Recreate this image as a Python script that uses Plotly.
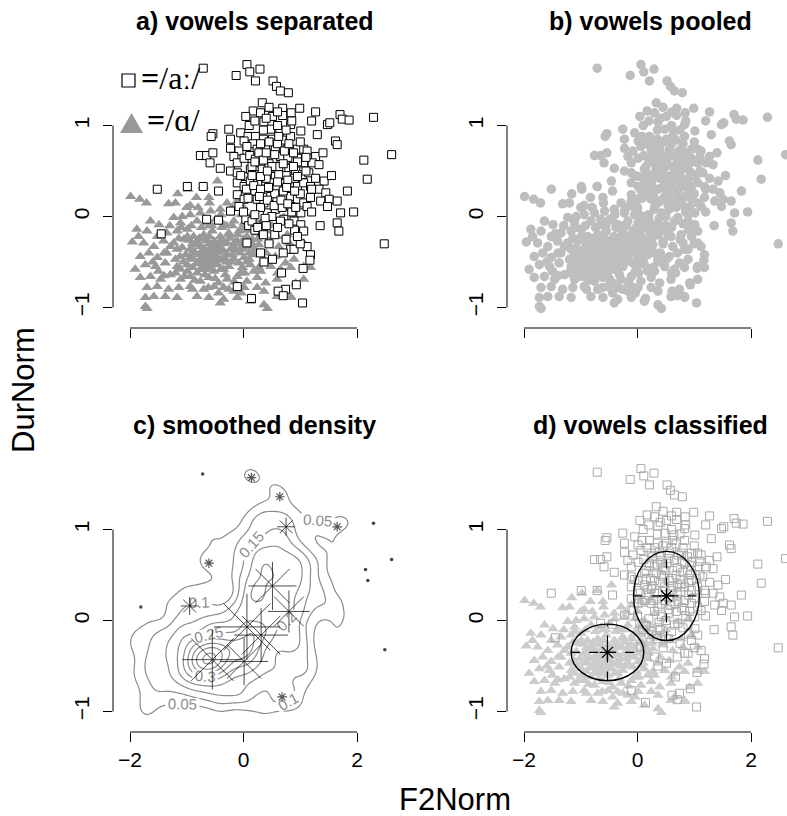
import numpy as np
import plotly.graph_objects as go

# ---------------- data ----------------
# /a:/ tokens (squares): F2Norm, DurNorm
long_x = [-0.71,0.06,0.11,0.29,-0.13,0.21,0.52,0.58,0.65,0.79,
0.33,0.69,0.17,0.30,0.04,0.51,0.69,0.84,0.99,1.27,
1.20,1.70,1.74,1.86,1.48,1.52,2.29,0.36,0.83,1.01,
0.64,-0.26,-0.54,-0.57,-0.05,0.08,0.21,0.48,0.83,1.62,
1.65,-0.23,0.01,0.17,0.35,0.51,0.68,-0.23,-0.08,0.06,
0.24,0.39,0.56,0.77,0.95,1.06,1.12,1.27,-0.76,-0.65,
-0.54,-0.59,-0.41,-0.17,-0.11,0.01,0.11,0.21,0.30,0.41,
0.52,0.65,0.83,0.95,1.06,1.21,1.33,2.12,2.61,2.18,
1.83,-0.23,-0.11,0.01,0.12,0.23,0.33,0.45,0.56,0.68,
0.80,0.92,1.04,1.15,1.27,1.42,-0.11,0.01,0.12,0.24,
0.36,0.48,0.59,0.71,0.83,0.95,1.06,1.18,1.33,1.45,
1.51,1.65,1.71,1.94,1.65,1.68,2.48,-0.44,-1.52,-0.99,
-0.71,-0.11,0.01,0.12,0.24,0.36,0.48,0.59,0.71,0.83,
0.95,1.06,1.18,1.36,1.48,0.42,0.56,0.68,0.83,1.01,
1.12,0.71,0.89,1.01,1.06,-0.44,0.04,0.09,0.36,0.33,
0.06,0.30,0.51,0.83,0.89,1.12,1.18,1.17,0.36,0.74,
-0.11,0.14,1.04,-1.45,-0.65,-0.23,-0.08,
0.15,0.27,0.45,0.62,0.75,0.90,0.55,0.70,0.40,0.20,
0.05,0.30,0.85,0.65,0.50,0.95,1.10,1.00,0.78,0.60,
0.35,0.10,0.45,0.75,0.25,-0.05,1.20,1.35,0.90,0.55,
0.75,1.00,0.20,1.55,1.40,1.30,0.00,0.60,
0.61,0.70,0.93,1.05,0.67,
0.20,0.35,0.50,0.70,0.88,0.15,0.30,0.42,0.62,0.78,
0.95,0.18,0.30,0.44,0.60,0.76,0.90,0.08,0.28,0.42,
0.54,0.66,0.78,0.92,0.40,0.55,0.72,0.88,0.30,0.45,
0.62,0.80,1.00,0.20,0.40,0.60,0.85,1.10,1.20,0.38,
0.60,0.80,0.95,0.45,0.70,
0.15,0.25,0.35,0.20,0.40]
long_y = [1.63,1.67,1.59,1.62,1.55,1.49,1.49,1.43,1.38,1.36,
1.25,1.19,1.16,1.14,1.10,1.10,1.11,1.14,1.19,1.15,
1.05,1.12,1.07,1.06,1.01,1.03,1.09,1.04,1.01,0.94,
0.94,0.96,0.91,0.88,0.92,0.88,0.88,0.96,0.88,0.83,
0.79,0.85,0.83,0.80,0.85,0.85,0.84,0.75,0.72,0.77,
0.74,0.75,0.74,0.74,0.74,0.74,0.72,0.66,0.67,0.67,
0.70,0.59,0.53,0.66,0.59,0.64,0.67,0.63,0.59,0.64,
0.63,0.66,0.63,0.64,0.59,0.59,0.57,0.62,0.68,0.41,
0.28,0.50,0.48,0.44,0.52,0.46,0.52,0.48,0.44,0.50,
0.53,0.50,0.46,0.48,0.42,0.39,0.37,0.33,0.39,0.35,
0.30,0.37,0.33,0.39,0.37,0.33,0.37,0.33,0.30,0.26,
0.19,0.17,0.04,0.05,-0.07,-0.16,-0.30,0.28,0.30,0.33,
0.33,0.24,0.19,0.22,0.19,0.15,0.22,0.17,0.21,0.22,
0.19,0.15,0.21,0.17,0.11,0.04,0.08,0.10,0.11,0.04,
0.11,-0.03,-0.05,-0.09,-0.16,-0.04,-0.03,-0.10,-0.08,-0.17,
-0.29,-0.40,-0.47,-0.36,-0.36,-0.33,-0.42,-0.48,-0.50,-0.80,
-0.77,-0.90,-0.95,-0.19,-0.03,0.06,0.11,
0.55,0.70,0.58,0.55,0.45,0.42,0.25,0.28,0.42,0.28,
0.30,0.10,0.05,-0.05,0.00,0.60,0.50,0.25,0.65,0.80,
0.95,1.00,1.20,0.95,0.38,0.45,0.05,-0.10,-0.15,-0.20,
-0.25,-0.30,-0.15,0.45,0.70,0.90,0.05,1.00,
-0.82,-0.87,-0.75,-0.57,-0.62,
0.60,0.62,0.55,0.58,0.55,0.45,0.44,0.50,0.46,0.40,
0.44,0.34,0.30,0.32,0.38,0.32,0.28,0.20,0.22,0.18,
0.12,0.18,0.14,0.10,0.70,0.68,0.72,0.70,0.80,0.82,
0.88,0.80,0.82,1.05,1.08,1.15,1.05,0.65,0.30,-0.02,
-0.12,-0.08,-0.22,-0.30,-0.40,
-0.05,-0.12,-0.20,0.02,-0.10]

# /ɑ/ tokens (triangles)
short_x = [-1.99,-1.83,-1.71,-1.16,-0.98,-0.71,-0.46,-0.83,-0.61,-1.32,
-1.20,-0.94,-0.29,-0.11,0.06,0.24,-1.49,-1.64,-1.23,-1.08,
-0.94,-0.76,-0.58,-0.41,-0.23,-0.05,0.12,0.30,0.48,0.71,
0.89,-1.88,-1.11,-0.82,-0.64,-0.49,-0.35,-0.17,0.01,0.21,
-1.96,-1.85,-1.70,-1.52,-1.35,-1.17,-0.99,-0.88,-0.70,-0.55,
-0.41,-0.26,-0.08,0.06,0.24,0.42,0.59,0.77,0.95,1.06,
-1.76,-1.58,-1.41,-1.23,-1.05,-0.82,-0.64,-0.46,-0.29,-0.11,
0.09,0.27,0.45,0.62,0.80,-1.82,-1.67,-1.52,-1.35,-1.20,
-1.02,-0.88,-0.73,-0.58,-0.44,-0.29,-0.14,0.01,0.18,0.36,
0.56,0.74,0.89,-1.91,-1.73,-1.55,-1.38,-1.17,-0.99,-0.82,
-0.64,-0.46,-0.26,-0.08,0.12,0.27,0.48,0.65,0.83,1.06,
1.18,-1.82,-1.64,-1.46,-1.29,-1.11,-0.94,-0.76,-0.61,-0.44,
-0.29,-0.11,0.06,0.24,0.39,0.59,0.92,1.06,-1.70,-1.52,
-1.32,-1.14,-0.94,-0.70,-0.52,-0.35,-0.17,0.01,0.24,0.36,
0.65,0.83,-1.73,-1.58,-1.38,-1.17,-0.82,-0.61,-0.35,-0.11,
0.12,0.36,0.59,0.83,-1.73,-1.70,-0.41,0.42,
-0.94,-0.76,-0.61,-0.46,-0.35,-0.99,-0.82,-0.67,-0.52,-0.38,
-0.23,-0.17,-1.17,-1.29,-0.88,-0.70,-0.52,-0.35,-0.99,-0.82,
-1.11,-0.60,-0.30,0.15,0.30,-0.05,-1.40,-1.00,-0.60,-0.20,
-1.10,-0.92,-0.74,-0.56,-0.38,-0.20,-0.02,0.16,
-1.14,-0.96,-0.78,-0.60,-0.42,-0.24,-0.06,0.12,
-1.08,-0.90,-0.72,-0.54,-0.36,-0.18,0.00,0.20,
-1.12,-0.94,-0.78,-0.62,-0.50,-0.34,-0.20,-0.06,0.10,
-1.06,-0.90,-0.74,-0.56,-0.40,-0.22,-0.02,0.18,
-1.20,-1.04,-0.86,-0.68,-0.50,-0.32,-0.16,0.02,
-0.90,-0.62,-0.44,-0.26,-0.04,
-1.40,-1.50,-1.30,-0.80,-0.40,0.00,0.40,0.50,0.60,-1.60,
-0.85,-0.75,-0.65,-0.55,-0.45,-0.70,-0.60,-0.50,-0.80,-0.65,
-0.55,-0.40,-0.72,-0.62,-0.48,-0.90,-0.58,-0.42,-0.76,-0.30,
-0.10,0.05,0.15,-0.05,0.10,0.00,-0.15,0.25,-0.25,0.05]
short_y = [0.22,0.19,0.15,0.25,0.30,0.33,0.39,0.21,0.21,0.14,
0.15,0.12,0.15,0.17,0.21,0.22,-0.09,-0.05,-0.01,0.00,
0.02,0.04,0.06,0.08,0.04,0.02,0.00,0.08,0.02,-0.01,
0.02,-0.14,-0.07,-0.05,-0.07,-0.03,-0.09,-0.05,-0.07,-0.05,
-0.28,-0.22,-0.16,-0.22,-0.18,-0.16,-0.14,-0.22,-0.20,-0.16,
-0.22,-0.18,-0.16,-0.22,-0.18,-0.16,-0.22,-0.20,-0.16,-0.29,
-0.29,-0.33,-0.27,-0.29,-0.25,-0.31,-0.27,-0.33,-0.29,-0.27,
-0.33,-0.31,-0.27,-0.33,-0.29,-0.44,-0.40,-0.45,-0.40,-0.47,
-0.42,-0.38,-0.45,-0.40,-0.47,-0.42,-0.38,-0.45,-0.42,-0.47,
-0.44,-0.51,-0.47,-0.58,-0.53,-0.55,-0.51,-0.55,-0.53,-0.51,
-0.55,-0.53,-0.55,-0.51,-0.53,-0.56,-0.55,-0.58,-0.56,-0.55,
-0.56,-0.67,-0.66,-0.69,-0.64,-0.69,-0.66,-0.71,-0.67,-0.73,
-0.69,-0.66,-0.71,-0.67,-0.73,-0.69,-0.73,-0.69,-0.78,-0.77,
-0.80,-0.78,-0.77,-0.80,-0.77,-0.78,-0.82,-0.78,-0.78,-0.82,
-0.84,-0.88,-0.89,-0.88,-0.88,-0.89,-0.88,-0.89,-0.91,-0.89,
-0.93,-0.97,-0.88,-0.89,-0.99,-1.01,-0.95,-1.01,
-0.36,-0.33,-0.36,-0.34,-0.38,-0.22,-0.27,-0.25,-0.27,-0.25,
-0.36,-0.47,-0.36,-0.33,-0.47,-0.58,-0.60,-0.58,-0.60,-0.62,
-0.58,-0.10,-0.10,-0.25,-0.60,-0.62,-0.65,0.10,0.15,0.10,
-0.12,-0.10,-0.12,-0.10,-0.12,-0.10,-0.12,-0.10,
-0.24,-0.26,-0.24,-0.22,-0.28,-0.24,-0.30,-0.28,
-0.34,-0.30,-0.38,-0.32,-0.30,-0.33,-0.36,-0.36,
-0.44,-0.45,-0.42,-0.46,-0.43,-0.45,-0.42,-0.40,-0.47,
-0.50,-0.56,-0.52,-0.50,-0.58,-0.50,-0.56,-0.60,
-0.62,-0.66,-0.70,-0.64,-0.68,-0.64,-0.72,-0.62,
-0.80,-0.78,-0.84,-0.80,-0.84,
-0.40,-0.60,-0.10,0.10,0.02,0.10,-0.40,-0.10,-0.62,-0.50,
-0.40,-0.48,-0.42,-0.50,-0.40,-0.35,-0.30,-0.36,-0.52,-0.52,
-0.44,-0.48,-0.44,-0.38,-0.52,-0.46,-0.58,-0.34,-0.58,-0.50,
-0.20,-0.15,-0.30,-0.35,-0.40,-0.25,-0.28,-0.25,-0.20,-0.50]

# panel c: sunflower-style markers (centre and count)
sun_x = [-0.55, 0.01, 0.06, 0.31, 0.51, 0.80, -0.95, 0.75, 0.14, 0.64, 1.65, -0.61, 0.68,
         -0.72, 2.29, 2.61, 2.15, 2.19, -1.81, 2.49]
sun_y = [-0.43, -0.45, -0.07, -0.16, 0.38, 0.10, 0.16, 1.03, 1.57, 1.36, 1.03, 0.63, -0.84,
         1.61, 1.07, 0.67, 0.56, 0.44, 0.15, -0.32]
sun_n = [10, 8, 11, 9, 8, 7, 3, 3, 2, 2, 2, 2, 2, 1, 1, 1, 1, 1, 1, 1]
contour_levels = [0.05, 0.7, 0.05]   # start, end, step

# panel d: class means and ellipse half-widths
cls_cx = [-0.53, 0.51]
cls_cy = [-0.35, 0.27]
cls_rx = [0.64, 0.58]
cls_ry = [0.31, 0.49]

titles = ["a) vowels separated", "b) vowels pooled", "c) smoothed density", "d) vowels classified"]
xticks = [-2, 0, 2]
yticks = [-1, 0, 1]

# ---------------- layout geometry ----------------
W, H = 787, 816
XR = [-2.30, 2.62]
YR = [-1.225, 1.80]
FONT = "Liberation Sans, Arial, Helvetica, sans-serif"

def fx(p):
    return p / W

def fy(p):
    return 1 - p / H

col_left = [113, 507]
plot_w = (XR[1] - XR[0]) * 56.75
row_bottom = [328, 732]
plot_h = (YR[1] - YR[0]) * 91.0

fig = go.Figure()

sq_long = dict(symbol="square", size=8, color="white", line=dict(color="black", width=1))
tri_a = dict(symbol="triangle-up", size=10, color="#999999", line=dict(width=0))

# panel a
fig.add_trace(go.Scatter(x=short_x, y=short_y, mode="markers", marker=tri_a,
                         xaxis="x", yaxis="y", cliponaxis=False))
fig.add_trace(go.Scatter(x=long_x, y=long_y, mode="markers", marker=sq_long,
                         xaxis="x", yaxis="y", cliponaxis=False))
# panel b
fig.add_trace(go.Scatter(x=long_x + short_x, y=long_y + short_y, mode="markers",
                         marker=dict(symbol="circle", size=9.5, color="#bebebe", line=dict(width=0)),
                         xaxis="x2", yaxis="y2", cliponaxis=False))

# panel c : kernel density of pooled tokens
px_all = np.array(long_x + short_x)
py_all = np.array(long_y + short_y)
gx = np.linspace(-2.3, 2.8, 180)
gy = np.linspace(-1.4, 2.0, 150)
hx, hy = 0.15, 0.10
GX, GY = np.meshgrid(gx, gy)
Z = np.zeros_like(GX)
for xi, yi in zip(px_all, py_all):
    Z += np.exp(-0.5 * ((GX - xi) / hx) ** 2 - 0.5 * ((GY - yi) / hy) ** 2)
Z /= (len(px_all) * 2 * np.pi * hx * hy)
fig.add_trace(go.Contour(x=gx, y=gy, z=Z, xaxis="x3", yaxis="y3", showscale=False,
                         colorscale=[[0, "#8c8c8c"], [1, "#8c8c8c"]],
                         contours=dict(start=contour_levels[0], end=contour_levels[1], size=contour_levels[2],
                                       coloring="lines", showlabels=True,
                                       labelfont=dict(family=FONT, size=15, color="#8c8c8c"),
                                       labelformat=".2~f"),
                         line=dict(width=1.2), hoverinfo="skip"))
big = [i for i, n in enumerate(sun_n) if n >= 3]
small = [i for i, n in enumerate(sun_n) if n == 2]
single = [i for i, n in enumerate(sun_n) if n == 1]
fig.add_trace(go.Scatter(x=[sun_x[i] for i in big], y=[sun_y[i] for i in big], mode="markers",
                         marker=dict(symbol="asterisk-open", size=[5 * sun_n[i] for i in big], color="black",
                                     line=dict(color="black", width=1)),
                         xaxis="x3", yaxis="y3", cliponaxis=False))
fig.add_trace(go.Scatter(x=[sun_x[i] for i in small], y=[sun_y[i] for i in small], mode="markers",
                         marker=dict(symbol="asterisk-open", size=8, color="#555555",
                                     line=dict(color="#555555", width=1.2)),
                         xaxis="x3", yaxis="y3", cliponaxis=False))
fig.add_trace(go.Scatter(x=[sun_x[i] for i in single], y=[sun_y[i] for i in single], mode="markers",
                         marker=dict(symbol="circle", size=3.5, color="#444444"),
                         xaxis="x3", yaxis="y3", cliponaxis=False))

# panel d
fig.add_trace(go.Scatter(x=short_x, y=short_y, mode="markers",
                         marker=dict(symbol="triangle-up", size=10, color="#cccccc", line=dict(width=0)),
                         xaxis="x4", yaxis="y4", cliponaxis=False))
fig.add_trace(go.Scatter(x=long_x, y=long_y, mode="markers",
                         marker=dict(symbol="square-open", size=8, color="#aaaaaa", line=dict(width=1)),
                         xaxis="x4", yaxis="y4", cliponaxis=False))
fig.add_trace(go.Scatter(x=cls_cx, y=cls_cy, mode="markers",
                         marker=dict(symbol="asterisk-open", size=13, color="black",
                                     line=dict(color="black", width=1.3)),
                         xaxis="x4", yaxis="y4", cliponaxis=False))

shapes = []
for cx, cy, rx, ry in zip(cls_cx, cls_cy, cls_rx, cls_ry):
    shapes.append(dict(type="circle", xref="x4", yref="y4", x0=cx - rx, x1=cx + rx, y0=cy - ry, y1=cy + ry,
                       line=dict(color="black", width=1.4)))
    shapes.append(dict(type="line", xref="x4", yref="y4", x0=cx - rx, x1=cx + rx, y0=cy, y1=cy,
                       line=dict(color="black", width=1.2, dash="dash")))
    shapes.append(dict(type="line", xref="x4", yref="y4", x0=cx, x1=cx, y0=cy - ry, y1=cy + ry,
                       line=dict(color="black", width=1.2, dash="dash")))

layout = dict(width=W, height=H, margin=dict(l=0, r=0, t=0, b=0), showlegend=False,
              paper_bgcolor="white", plot_bgcolor="rgba(0,0,0,0)", font=dict(family=FONT, color="black"))

names = ["", "2", "3", "4"]
annotations = []
for k in range(4):
    r, c = divmod(k, 2)
    l = col_left[c]
    b = row_bottom[r]
    xa = dict(domain=[fx(l), min(1.0, fx(l + plot_w))], range=XR, showgrid=False, zeroline=False,
              showline=False, ticks="outside", ticklen=9, tickwidth=1, tickcolor="black",
              tickvals=xticks, showticklabels=(r == 1), tickfont=dict(family=FONT, size=21),
              anchor="y" + names[k])
    ya = dict(domain=[fy(b), fy(b - plot_h)], range=YR, showgrid=False, zeroline=False,
              showline=False, ticks="outside", ticklen=9, tickwidth=1, tickcolor="black",
              tickvals=yticks, tickangle=-90, tickfont=dict(family=FONT, size=21),
              ticklabelstandoff=6, anchor="x" + names[k])
    layout["xaxis" + names[k]] = xa
    layout["yaxis" + names[k]] = ya
    xr = "x" + names[k]
    yr = "y" + names[k]
    shapes.append(dict(type="line", xref=xr, yref=yr + " domain", x0=xticks[0], x1=xticks[-1], y0=0, y1=0,
                       line=dict(color="black", width=1)))
    shapes.append(dict(type="line", xref=xr + " domain", yref=yr, x0=0, x1=0, y0=yticks[0], y1=yticks[-1],
                       line=dict(color="black", width=1)))
    annotations.append(dict(text="<b>" + titles[k] + "</b>", x=fx([255, 650][c]), y=fy(21 + 404 * r),
                            xref="paper", yref="paper", showarrow=False, xanchor="center", yanchor="middle",
                            font=dict(family=FONT, size=25, color="black")))

# legend in panel a
shapes.append(dict(type="rect", xref="paper", yref="paper", x0=fx(122), x1=fx(135), y0=fy(87), y1=fy(74),
                   line=dict(color="black", width=1.2), fillcolor="white"))
shapes.append(dict(type="path", xref="paper", yref="paper",
                   path="M %f %f L %f %f L %f %f Z" % (fx(120), fy(133), fx(143), fy(133), fx(131.5), fy(113)),
                   line=dict(width=0), fillcolor="#999999"))
annotations.append(dict(text="<b>=</b>/aː/", x=fx(139), y=fy(78), xref="paper", yref="paper", showarrow=False,
                        xanchor="left", yanchor="middle",
                        font=dict(family="Liberation Serif, DejaVu Serif, serif", size=32, color="black")))
annotations.append(dict(text="<b>=</b>/ɑ/", x=fx(145), y=fy(120), xref="paper", yref="paper", showarrow=False,
                        xanchor="left", yanchor="middle",
                        font=dict(family="Liberation Serif, DejaVu Serif, serif", size=32, color="black")))
annotations.append(dict(text="DurNorm", x=fx(23), y=fy(390), xref="paper", yref="paper", showarrow=False,
                        textangle=-90, xanchor="center", yanchor="middle",
                        font=dict(family=FONT, size=31, color="black")))
annotations.append(dict(text="F2Norm", x=fx(455), y=fy(799), xref="paper", yref="paper", showarrow=False,
                        xanchor="center", yanchor="middle", font=dict(family=FONT, size=31, color="black")))

layout["shapes"] = shapes
layout["annotations"] = annotations
fig.update_layout(**layout)
fig.write_html("out.html")
